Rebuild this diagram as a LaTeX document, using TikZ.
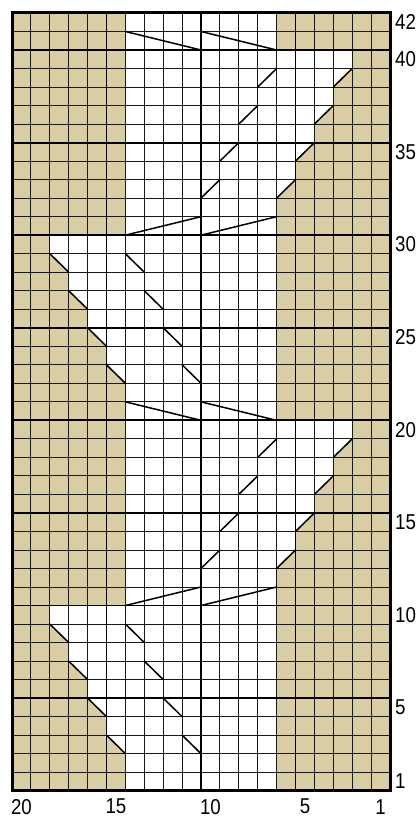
\documentclass[tikz,border=0pt]{standalone}
\usepackage{fontspec}
\newfontfamily\labfont[FakeStretch=0.87]{Liberation Sans}
\definecolor{beige}{RGB}{216,205,165}
\tikzset{
  thinl/.style={line width=0.85bp, black!90},
  thickl/.style={line width=1.9bp, black},
  borderl/.style={line width=3bp, black, line join=miter},
  diagl/.style={line width=1.5bp, black, line cap=round},
  lab/.style={inner sep=0pt, font=\labfont\fontsize{21.5bp}{23bp}\selectfont}
}
\begin{document}
\begin{tikzpicture}
\useasboundingbox (0,0) rectangle (419bp,818bp);
\begin{scope}[shift={(12bp,27.3bp)}, x=18.9bp, y=18.517bp]
  % background
  \fill[beige] (0,0) rectangle (20,42);
  \foreach \k in {0,20} {
    \fill[white] (6,\k) -- (14,\k) -- (14,\k+10) -- (2,\k+10) -- (2,\k+9) -- (3,\k+8) -- (3,\k+7)
      -- (4,\k+6) -- (4,\k+5) -- (5,\k+4) -- (5,\k+3) -- (6,\k+2) -- cycle;
    \fill[white] (6,\k+10) -- (14,\k+10) -- (14,\k+12) -- (15,\k+13) -- (15,\k+14) -- (16,\k+15)
      -- (16,\k+16) -- (17,\k+17) -- (17,\k+18) -- (18,\k+19) -- (18,\k+20) -- (6,\k+20) -- cycle;
  }
  \fill[white] (6,40) rectangle (14,42);
  % thin grid
  \foreach \i in {0,...,20} \draw[thinl] (\i,0) -- (\i,42);
  \foreach \j in {0,...,42} \draw[thinl] (0,\j) -- (20,\j);
  % thick lines
  \foreach \i in {5,10,15} \draw[thickl] (\i,0) -- (\i,42);
  \foreach \j in {5,10,...,40} \draw[thickl] (0,\j) -- (20,\j);
  % diagonals
  \foreach \k in {0,20} {
    \draw[diagl] (2,\k+9) -- (3,\k+8);
    \draw[diagl] (3,\k+7) -- (4,\k+6);
    \draw[diagl] (4,\k+5) -- (5,\k+4);
    \draw[diagl] (5,\k+3) -- (6,\k+2);
    \draw[diagl] (6,\k+9) -- (7,\k+8);
    \draw[diagl] (7,\k+7) -- (8,\k+6);
    \draw[diagl] (8,\k+5) -- (9,\k+4);
    \draw[diagl] (9,\k+3) -- (10,\k+2);
    \draw[diagl] (14,\k+12) -- (15,\k+13);
    \draw[diagl] (15,\k+14) -- (16,\k+15);
    \draw[diagl] (16,\k+16) -- (17,\k+17);
    \draw[diagl] (17,\k+18) -- (18,\k+19);
    \draw[diagl] (10,\k+12) -- (11,\k+13);
    \draw[diagl] (11,\k+14) -- (12,\k+15);
    \draw[diagl] (12,\k+16) -- (13,\k+17);
    \draw[diagl] (13,\k+18) -- (14,\k+19);
    % slanted lines
    \draw[diagl] (6,\k+10) -- (10,\k+11);
    \draw[diagl] (10,\k+10) -- (14,\k+11);
    \draw[diagl] (6,\k+21) -- (10,\k+20);
    \draw[diagl] (10,\k+21) -- (14,\k+20);
  }
  % border
  \draw[borderl] (0,0) rectangle (20,42);
  % row labels
  \node[lab, anchor=west] (r42) at (20.26,41.5) {42};
  \node[lab, anchor=west] (r40) at (20.26,39.5) {40};
  \node[lab, anchor=west] (r35) at (20.26,34.5) {35};
  \node[lab, anchor=west] (r30) at (20.26,29.5) {30};
  \node[lab, anchor=west] (r25) at (20.26,24.5) {25};
  \node[lab, anchor=west] (r20) at (20.26,19.5) {20};
  \node[lab, anchor=west] (r15) at (20.26,14.5) {15};
  \node[lab, anchor=west] (r10) at (20.26,9.5) {10};
  \node[lab, anchor=west] (r5) at (20.26,4.5) {5};
  \node[lab, anchor=west] (r1) at (20.26,0.5) {1};
  % column labels
  \node[lab] (c20) at (0.5,-0.86) {20};
  \node[lab] (c15) at (5.5,-0.86) {15};
  \node[lab] (c10) at (10.5,-0.86) {10};
  \node[lab] (c5) at (15.5,-0.86) {5};
  \node[lab] (c1) at (19.5,-0.86) {1};
\end{scope}
\end{tikzpicture}
\end{document}
